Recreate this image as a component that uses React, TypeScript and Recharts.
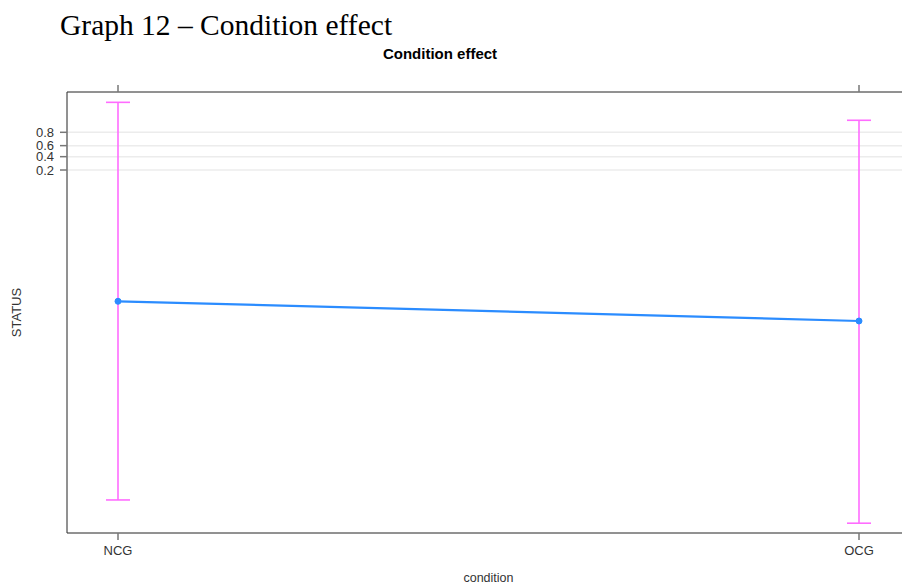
import React from "react";
import { LineChart, Line, XAxis, YAxis, CartesianGrid, ErrorBar } from "recharts";

// values, on the logit (linear predictor) scale
const categories = ["NCG", "OCG"];
const fitLogit = [-11.04, -12.49];
const lowerLogit = [-25.65, -27.36];
const upperLogit = [3.59, 2.27];
const tickProbs = [0.2, 0.4, 0.6, 0.8];

const logit = (p: number) => Math.log(p / (1 - p));
const invLogit = (v: number) => 1 / (1 + Math.exp(-v));

const data = categories.map((c, i) => ({
  condition: c,
  fit: fitLogit[i],
  err: [fitLogit[i] - lowerLogit[i], upperLogit[i] - fitLogit[i]],
}));

const yTicks = tickProbs.map(logit);

const BLUE = "#2b8cff";
const MAGENTA = "#ff6cff";
const FONT = "'Liberation Sans', Arial, sans-serif";

export default function App() {
  return (
    <div style={{ position: "absolute", left: 0, top: 0, width: 902, height: 584, overflow: "hidden", background: "#fff" }}>
      <svg width={902} height={70} style={{ position: "absolute", left: 0, top: 0 }}>
        <text x={60} y={35} fontFamily="'Liberation Serif', 'Times New Roman', serif" fontSize={29.5} fill="#000">
          Graph 12 – Condition effect
        </text>
        <text x={440} y={59} textAnchor="middle" fontFamily={FONT} fontWeight="bold" fontSize={15} fill="#000">
          Condition effect
        </text>
      </svg>
      <div style={{ position: "absolute", left: 0, top: 0 }}>
        <LineChart width={910} height={584} data={data} margin={{ top: 62, right: 0, bottom: 0, left: 0 }}>
          <CartesianGrid stroke="#ececec" strokeWidth={1.5} />
          <XAxis
            dataKey="condition"
            xAxisId="bottom"
            orientation="bottom"
            height={51}
            padding={{ left: 51, right: 51 }}
            tickSize={7}
            tickMargin={6}
            axisLine={{ stroke: "#333" }}
            tickLine={{ stroke: "#777", strokeWidth: 1.5 }}
            tick={{ fontSize: 13, fill: "#333", fontFamily: FONT }}
            label={{ value: "condition", position: "insideBottom", offset: 2, fontSize: 12.5, fill: "#333", fontFamily: FONT }}
          />
          <XAxis
            dataKey="condition"
            xAxisId="top"
            orientation="top"
            height={30}
            padding={{ left: 51, right: 51 }}
            tickSize={7}
            axisLine={{ stroke: "#333" }}
            tickLine={{ stroke: "#777", strokeWidth: 1.5 }}
            tickFormatter={() => ""}
          />
          <YAxis
            type="number"
            width={67}
            domain={[-28.08, 4.35]}
            allowDataOverflow
            ticks={yTicks}
            interval={0}
            tickSize={7}
            tickMargin={6}
            axisLine={{ stroke: "#333" }}
            tickLine={{ stroke: "#777", strokeWidth: 1.5 }}
            tick={{ fontSize: 13, fill: "#333", fontFamily: FONT }}
            tickFormatter={(v: number) => invLogit(v).toFixed(1)}
            label={{
              value: "STATUS",
              angle: -90,
              position: "insideLeft",
              offset: 16,
              fontSize: 13,
              fill: "#333",
              fontFamily: FONT,
              style: { textAnchor: "middle" },
            }}
          />
          <Line
            xAxisId="bottom"
            dataKey="fit"
            stroke={BLUE}
            strokeWidth={2.2}
            dot={{ r: 3, fill: BLUE, stroke: BLUE, strokeWidth: 1 }}
            activeDot={false}
            isAnimationActive={false}
          >
            <ErrorBar dataKey="err" direction="y" width={12} stroke={MAGENTA} strokeWidth={1.6} isAnimationActive={false} />
          </Line>
        </LineChart>
      </div>
    </div>
  );
}
